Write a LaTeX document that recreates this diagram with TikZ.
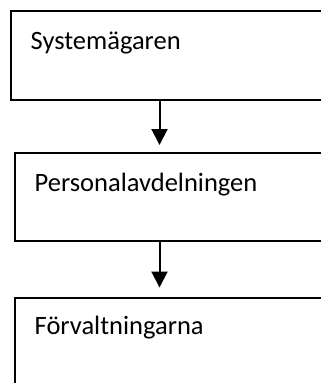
\documentclass[tikz,border=0pt]{standalone}
\usepackage{fontspec}
\setmainfont{Carlito}
\usetikzlibrary{arrows.meta}

\tikzset{
  ruta/.style={draw, line width=2pt, inner sep=0pt, outer sep=0pt},
  etikett/.style={anchor=base west, inner sep=0pt, font=\fontsize{26.5}{32}\selectfont},
  pil/.style={-{Triangle[width=16pt,length=16pt]}, line width=2pt, shorten >=8pt}
}

\begin{document}
\begin{tikzpicture}[x=1pt, y=-1pt]
    \useasboundingbox (0,0) rectangle (321,383);
    \clip (0,0) rectangle (321,383);

    % Rutor
    \node[ruta, minimum width=310.5pt, minimum height=89pt] (agare) at (166.25,55.5) {};
    \node[ruta, minimum width=325pt, minimum height=88pt] (personal) at (177.5,197) {};
    \node[ruta, minimum width=325pt, minimum height=103pt] (forvalt) at (177.5,349) {};

    % Texter
    \node[etikett] (tagare) at ([xshift=19.5pt, yshift=-38pt]agare.north west) {Systemägaren};
    \node[etikett] (tpersonal) at ([xshift=19.5pt, yshift=-38.5pt]personal.north west) {Personalavdelningen};
    \node[etikett] (tforvalt) at ([xshift=19.5pt, yshift=-37pt]forvalt.north west) {Förvaltningarna};

    % Pilar
    \coordinate (axel) at (159.5,0);
    \draw[pil] (agare.south -| axel) -- (personal.north -| axel);
    \draw[pil, shorten >=10pt] (personal.south -| axel) -- (forvalt.north -| axel);
\end{tikzpicture}
\end{document}
